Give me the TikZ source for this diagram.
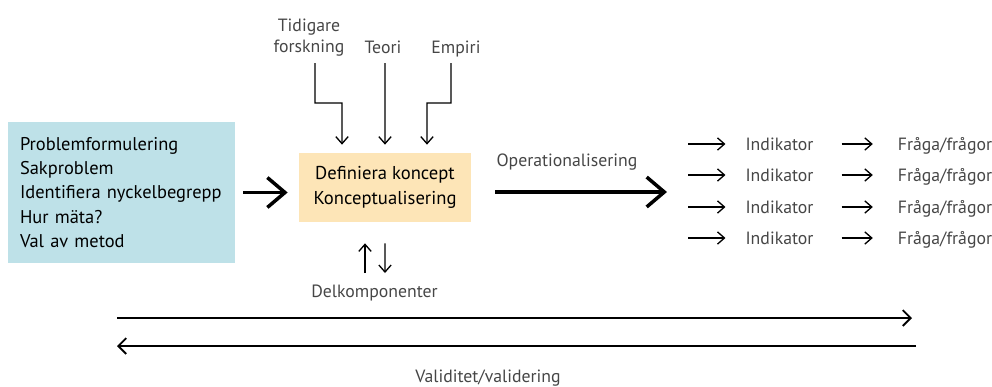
\documentclass[tikz,border=0pt]{standalone}
\usepackage{fontspec}
\setmainfont{PT Sans}
\usetikzlibrary{arrows.meta,calc,positioning}
\definecolor{problemColor}{RGB}{190,225,232}
\definecolor{conceptColor}{RGB}{253,229,183}
\definecolor{labelColor}{RGB}{70,70,70}
\tikzset{box/.style={inner sep=0pt, font=\fontsize{10.5}{13.9}\selectfont}}
\tikzset{problem/.style={box, align=left, fill=problemColor, text width=4.06cm, minimum width=4.54cm, minimum height=2.82cm}}
\tikzset{concept/.style={box, align=center, fill=conceptColor, minimum width=3.44cm, minimum height=1.38cm, font=\fontsize{10.6}{14.2}\selectfont}}
\tikzset{textlabel/.style={text=labelColor, inner sep=1pt, font=\fontsize{10.1}{11.8}\selectfont}}
\tikzstyle{bigarrow} = [line width=2pt, -{Straight Barb[length=10pt, width=17pt]}]
\tikzstyle{thinarrow} = [line width=0.75pt, -{Straight Barb[length=4pt, width=7pt]}]
\tikzstyle{longarrow} = [line width=1.1pt, -{Straight Barb[length=4.5pt, width=9pt]}]

\begin{document}
\begin{tikzpicture}[x=0.02cm, y=-0.02cm]
	\useasboundingbox (0,0) rectangle (992,386);
	% Nodes
	\node (problem) [problem] at (121.5,192.5) {Problemformulering\\ Sakproblem\\ Identifiera nyckelbegrepp\\ Hur mäta?\\ Val av metod};
	\node (concept) [concept] at (385,187.5) {Definiera koncept\\ Konceptualisering};

	\node (forskning) [textlabel, align=center, anchor=south] at (309,58) {Tidigare\\ forskning};
	\node (teori) [textlabel, anchor=base] at (383,53) {Teori};
	\node (empiri) [textlabel, anchor=base] at (456,53) {Empiri};
	\node (delkomp) [textlabel, anchor=base] at (374.5,297) {Delkomponenter};
	\node (oper) [textlabel, anchor=base] at (567,166) {Operationalisering};
	\node (validitet) [textlabel, anchor=base] at (488,382) {Validitet/validering};

	\coordinate (kneeF) at (342,103);
	\coordinate (kneeE) at (427,103);
	\coordinate (operend) at (667,192);
	\coordinate (valfrom) at (117,318);
	\coordinate (valto) at (912,318);
	\coordinate (backfrom) at (916,346);
	\coordinate (backto) at (117,346);

	\foreach \i/\y in {1/144,2/175,3/207,4/238} {
		\coordinate (start\i) at (688,\y);
		\node (ind\i) [textlabel, anchor=base] at (779.5,\y+6) {Indikator};
		\node (fraga\i) [textlabel, anchor=base] at (945,\y+6) {Fråga/frågor};
	}

	% Connectors
	\draw [bigarrow, shorten <=0.16cm, shorten >=0.22cm] (problem.east) -- (problem.east -| concept.west);
	\draw [bigarrow, shorten <=0.48cm] (concept.east |- operend) -- (operend);

	\draw [thinarrow] ([xshift=0.12cm, yshift=-0.1cm]forskning.south) |- (kneeF) -- ([xshift=-0.86cm, yshift=0.16cm]concept.north);
	\draw [thinarrow] ([xshift=0.04cm, yshift=-0.2cm]teori.base) -- ([yshift=0.16cm]concept.north);
	\draw [thinarrow] ([xshift=-0.1cm, yshift=-0.2cm]empiri.base) |- (kneeE) -- ([xshift=0.84cm, yshift=0.16cm]concept.north);

	\draw [thinarrow] ($(delkomp.base)+(-9.5,-24)$) -- ($(concept.south)+(-20,21)$);
	\draw [thinarrow] ($(concept.south)+(0,21)$) -- ($(delkomp.base)+(10.5,-24)$);

	\foreach \i in {1,...,4} {
		\draw [thinarrow, shorten >=0.36cm] (start\i) -- (start\i -| ind\i.west);
		\draw [thinarrow, shorten <=0.52cm, shorten >=0.46cm] (start\i -| ind\i.east) -- (start\i -| fraga\i.west);
	}

	\draw [longarrow] (valfrom) -- (valto);
	\draw [longarrow] (backfrom) -- (backto);
\end{tikzpicture}
\end{document}
